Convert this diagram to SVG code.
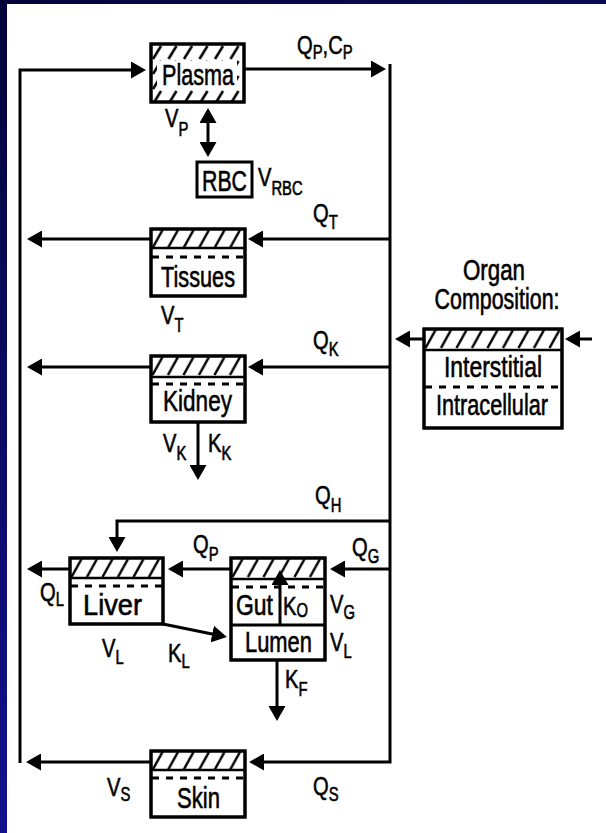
<svg xmlns="http://www.w3.org/2000/svg" width="606" height="833" viewBox="0 0 606 833">
<style>
.ln{fill:none;stroke:#000;stroke-width:3}
.bx{fill:#fff;stroke:#000;stroke-width:3}
.sep{stroke:#000;stroke-width:2.5}
.dot{stroke:#000;stroke-width:3;stroke-dasharray:7 7}
text{font-family:"Liberation Sans Narrow","Liberation Sans",Arial,sans-serif;fill:#000;stroke:#000;stroke-width:0.6}
.t{font-size:30px}
.o{font-size:29px}
.lb{font-size:26.5px}
.sb{font-size:19.5px}
</style>
<defs>
<linearGradient id="gl" x1="0" y1="0" x2="0" y2="1"><stop offset="0" stop-color="#04043a"/><stop offset="1" stop-color="#12128e"/></linearGradient>
<linearGradient id="gt" x1="0" y1="0" x2="1" y2="0"><stop offset="0" stop-color="#04043a"/><stop offset="1" stop-color="#0a0a55"/></linearGradient>
<pattern id="hatch" patternUnits="userSpaceOnUse" width="15.5" height="20"><line x1="1.5" y1="19" x2="11.5" y2="1" stroke="#000" stroke-width="2.5"/></pattern>
<pattern id="hatchP" patternUnits="userSpaceOnUse" width="15.5" height="15"><line x1="2" y1="14" x2="10" y2="1" stroke="#000" stroke-width="2.5"/></pattern>
<marker id="ah" viewBox="0 0 15 17" refX="10" refY="8.5" markerWidth="15" markerHeight="17" markerUnits="userSpaceOnUse" orient="auto-start-reverse"><path d="M0,0 L15,8.5 L0,17 z" fill="#000"/></marker>
</defs>
<rect x="0" y="0" width="606" height="833" fill="#fff"/>
<rect x="0" y="0" width="606" height="4" fill="url(#gt)"/>
<rect x="0" y="0" width="7" height="833" fill="url(#gl)"/>

<g id="connectors">
<path class="ln" d="M20,763 L20,70 L141,70" marker-end="url(#ah)"/>
<path class="ln" d="M244,69 L381,69" marker-end="url(#ah)"/>
<path class="ln" d="M390,64 L390,762 L254,762" marker-end="url(#ah)"/>
<path class="ln" d="M390,239 L253,239" marker-end="url(#ah)"/>
<path class="ln" d="M151,239 L32,239" marker-end="url(#ah)"/>
<path class="ln" d="M390,367 L253,367" marker-end="url(#ah)"/>
<path class="ln" d="M151,367 L32,367" marker-end="url(#ah)"/>
<path class="ln" d="M198,422 L198,475" marker-end="url(#ah)"/>
<path class="ln" d="M390,521 L117,521 L117,547" marker-end="url(#ah)"/>
<path class="ln" d="M390,569 L335,569" marker-end="url(#ah)"/>
<path class="ln" d="M231,569 L173,569" marker-end="url(#ah)"/>
<path class="ln" d="M70,569 L32,569" marker-end="url(#ah)"/>
<path class="ln" d="M163,624 L222,636" marker-end="url(#ah)"/>
<path class="ln" d="M277,660 L277,716" marker-end="url(#ah)"/>
<path class="ln" d="M151,762 L31,762" marker-end="url(#ah)"/>
<path class="ln" d="M424,339 L400,339" marker-end="url(#ah)"/>
<path class="ln" d="M592,339 L570,339" marker-end="url(#ah)"/>
<path class="ln" d="M208,113 L208,152" marker-start="url(#ah)" marker-end="url(#ah)"/>
</g>

<g id="plasma">
<rect class="bx" x="151" y="44" width="93" height="58"/>
<g transform="translate(151,45)"><rect x="0" y="0" width="93" height="57" fill="url(#hatchP)"/></g>
<rect x="157" y="61" width="80" height="29" fill="#fff"/>
<rect x="151" y="44" width="93" height="58" fill="none" stroke="#000" stroke-width="3"/>
<text class="t" x="162" y="85" textLength="72" lengthAdjust="spacingAndGlyphs">Plasma</text>
</g>

<g id="rbc">
<rect class="bx" x="197" y="162" width="55" height="35"/>
<text class="t" x="202" y="191" textLength="45" lengthAdjust="spacingAndGlyphs">RBC</text>
</g>

<g id="tissues">
<rect class="bx" x="151" y="229" width="94" height="67"/>
<g transform="translate(151,229)"><rect x="0" y="0" width="94" height="19" fill="url(#hatch)"/></g>
<line class="sep" x1="151" y1="248" x2="245" y2="248"/>
<line class="dot" x1="152" y1="257" x2="245" y2="257"/>
<rect x="151" y="229" width="94" height="67" fill="none" stroke="#000" stroke-width="3"/>
<text class="t" x="161" y="287" textLength="74" lengthAdjust="spacingAndGlyphs">Tissues</text>
</g>

<g id="kidney">
<rect class="bx" x="151" y="356" width="94" height="66"/>
<g transform="translate(151,356)"><rect x="0" y="0" width="94" height="21" fill="url(#hatch)"/></g>
<line class="sep" x1="151" y1="377" x2="245" y2="377"/>
<line class="dot" x1="152" y1="384" x2="245" y2="384"/>
<rect x="151" y="356" width="94" height="66" fill="none" stroke="#000" stroke-width="3"/>
<text class="t" x="163" y="411" textLength="69" lengthAdjust="spacingAndGlyphs">Kidney</text>
</g>

<g id="organ">
<text class="o" x="494" y="280" text-anchor="middle" textLength="62" lengthAdjust="spacingAndGlyphs">Organ</text>
<text class="o" x="497" y="309" text-anchor="middle" textLength="125" lengthAdjust="spacingAndGlyphs">Composition:</text>
<rect class="bx" x="424" y="329" width="138" height="99"/>
<g transform="translate(424,329)"><rect x="0" y="0" width="138" height="21" fill="url(#hatch)"/></g>
<line class="sep" x1="424" y1="350" x2="562" y2="350"/>
<line class="dot" x1="425" y1="387" x2="562" y2="387"/>
<rect x="424" y="329" width="138" height="99" fill="none" stroke="#000" stroke-width="3"/>
<text class="t" x="444" y="377" textLength="98" lengthAdjust="spacingAndGlyphs">Interstitial</text>
<text class="t" x="436" y="415" textLength="112" lengthAdjust="spacingAndGlyphs">Intracellular</text>
</g>

<g id="liver">
<rect class="bx" x="70" y="558" width="93" height="66"/>
<g transform="translate(70,558)"><rect x="0" y="0" width="93" height="20" fill="url(#hatch)"/></g>
<line class="sep" x1="70" y1="578" x2="163" y2="578"/>
<line class="dot" x1="71" y1="586" x2="163" y2="586"/>
<rect x="70" y="558" width="93" height="66" fill="none" stroke="#000" stroke-width="3"/>
<text class="t" x="83" y="615" textLength="59" lengthAdjust="spacingAndGlyphs">Liver</text>
</g>

<g id="gut">
<rect class="bx" x="231" y="558" width="94" height="102"/>
<g transform="translate(231,558)"><rect x="0" y="0" width="94" height="21" fill="url(#hatch)"/></g>
<line class="sep" x1="231" y1="579" x2="325" y2="579"/>
<line class="dot" x1="232" y1="587" x2="325" y2="587"/>
<line class="ln" x1="231" y1="625" x2="325" y2="625"/>
<rect x="231" y="558" width="94" height="102" fill="none" stroke="#000" stroke-width="3"/>
<path class="ln" d="M280,625 L280,575" marker-end="url(#ah)"/>
<text class="t" x="236" y="615" textLength="37" lengthAdjust="spacingAndGlyphs">Gut</text>
<text class="t" x="245" y="652" textLength="67" lengthAdjust="spacingAndGlyphs">Lumen</text>
</g>

<g id="skin">
<rect class="bx" x="151" y="751" width="94" height="66"/>
<g transform="translate(151,751)"><rect x="0" y="0" width="94" height="19" fill="url(#hatch)"/></g>
<line class="sep" x1="151" y1="770" x2="245" y2="770"/>
<line class="dot" x1="152" y1="778" x2="245" y2="778"/>
<rect x="151" y="751" width="94" height="66" fill="none" stroke="#000" stroke-width="3"/>
<text class="t" x="177" y="808" textLength="43" lengthAdjust="spacingAndGlyphs">Skin</text>
</g>

<g id="labels">
<text class="lb" transform="translate(297,54) scale(0.76,1)">Q<tspan class="sb" dy="5">P</tspan><tspan dy="-5">,C</tspan><tspan class="sb" dy="5">P</tspan></text>
<text class="lb" transform="translate(165,127) scale(0.76,1)">V<tspan class="sb" dy="9">P</tspan></text>
<text class="lb" transform="translate(258,186) scale(0.76,1)">V<tspan class="sb" dy="9">RBC</tspan></text>
<text class="lb" transform="translate(313,222) scale(0.76,1)">Q<tspan class="sb" dy="7">T</tspan></text>
<text class="lb" transform="translate(161,324) scale(0.76,1)">V<tspan class="sb" dy="8">T</tspan></text>
<text class="lb" transform="translate(313,349) scale(0.76,1)">Q<tspan class="sb" dy="7">K</tspan></text>
<text class="lb" transform="translate(163,452) scale(0.76,1)">V<tspan class="sb" dy="8">K</tspan></text>
<text class="lb" transform="translate(208,452) scale(0.76,1)">K<tspan class="sb" dy="8">K</tspan></text>
<text class="lb" transform="translate(315,504) scale(0.76,1)">Q<tspan class="sb" dy="8">H</tspan></text>
<text class="lb" transform="translate(193,553) scale(0.76,1)">Q<tspan class="sb" dy="8">P</tspan></text>
<text class="lb" transform="translate(352,556) scale(0.76,1)">Q<tspan class="sb" dy="7">G</tspan></text>
<text class="lb" transform="translate(40,601) scale(0.76,1)">Q<tspan class="sb" dy="5">L</tspan></text>
<text class="lb" transform="translate(283,615) scale(0.76,1)">K<tspan class="sb" dy="2">O</tspan></text>
<text class="lb" transform="translate(330,613) scale(0.76,1)">V<tspan class="sb" dy="6">G</tspan></text>
<text class="lb" transform="translate(330,651) scale(0.76,1)">V<tspan class="sb" dy="7">L</tspan></text>
<text class="lb" transform="translate(102,657) scale(0.76,1)">V<tspan class="sb" dy="7">L</tspan></text>
<text class="lb" transform="translate(168,662) scale(0.76,1)">K<tspan class="sb" dy="6">L</tspan></text>
<text class="lb" transform="translate(285,688) scale(0.76,1)">K<tspan class="sb" dy="8">F</tspan></text>
<text class="lb" transform="translate(107,796) scale(0.76,1)">V<tspan class="sb" dy="5">S</tspan></text>
<text class="lb" transform="translate(313,795) scale(0.76,1)">Q<tspan class="sb" dy="6">S</tspan></text>
</g>
</svg>
